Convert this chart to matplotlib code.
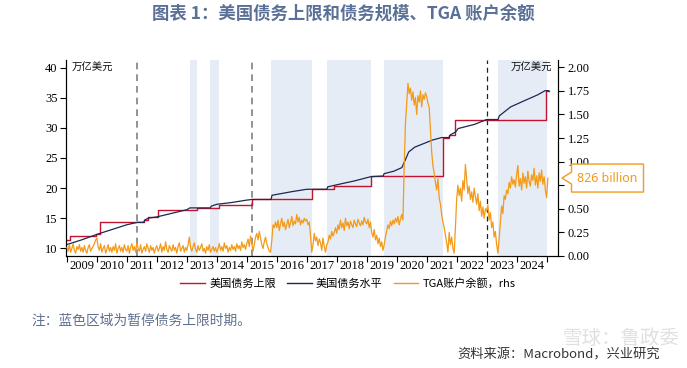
import numpy as np
import matplotlib
matplotlib.use("Agg")
import matplotlib.pyplot as plt
from matplotlib.patches import Polygon

plt.rcParams['font.family'] = ['Noto Sans CJK SC', 'DejaVu Sans']

# 债务上限（万亿美元），阶梯：起始时间 -> 数值
ceil_dates = [2009.0, 2009.11, 2009.96, 2010.10, 2011.56, 2011.72, 2012.03,
              2013.35, 2014.08, 2015.17, 2017.17, 2017.92, 2019.14,
              2021.55, 2021.74, 2021.94, 2024.97, 2025.07]
ceil_vals = [11.3, 12.1, 12.4, 14.3, 14.7, 15.2, 16.4,
             16.7, 17.2, 18.1, 19.8, 20.4, 22.0,
             28.4, 28.9, 31.4, 36.2, 36.2]

# 债务水平（万亿美元）
debt_dates = [2009.0, 2009.5, 2010.0, 2010.5, 2011.0, 2011.35, 2011.56, 2011.60,
              2011.72, 2012.0, 2012.5, 2013.0, 2013.1, 2013.35, 2013.78, 2013.82,
              2014.0, 2014.5, 2015.0, 2015.17, 2015.81, 2015.84, 2016.5, 2017.0,
              2017.17, 2017.67, 2017.70, 2018.05, 2018.6, 2019.14, 2019.55, 2019.58,
              2019.9, 2020.17, 2020.28, 2020.4, 2020.6, 2021.0, 2021.2, 2021.5,
              2021.74, 2021.80, 2021.96, 2022.05, 2022.6, 2023.0, 2023.38, 2023.42,
              2023.8, 2024.2, 2024.7, 2024.95, 2025.07]
debt_vals = [10.6, 11.4, 12.3, 13.1, 13.9, 14.3, 14.3, 14.7,
             15.0, 15.2, 15.8, 16.4, 16.7, 16.7, 16.7, 17.0,
             17.3, 17.6, 18.0, 18.1, 18.1, 18.8, 19.4, 19.8,
             19.8, 19.8, 20.2, 20.6, 21.2, 21.9, 22.0, 22.4,
             22.8, 23.4, 24.6, 26.0, 26.8, 27.6, 28.0, 28.4,
             28.4, 28.9, 29.3, 29.9, 30.6, 31.4, 31.4, 32.0,
             33.5, 34.4, 35.5, 36.2, 36.2]

# TGA 账户余额（万亿美元，右轴），半月度，自 2009 年初起
tga_vals = [
    0.09, 0.05, 0.12, 0.04, 0.08, 0.13, 0.06, 0.03, 0.10, 0.07, 0.12, 0.05,
    0.09, 0.04, 0.11, 0.06, 0.03, 0.09, 0.12, 0.05, 0.08, 0.10, 0.13, 0.17,  # 2009
    0.19, 0.10, 0.06, 0.13, 0.04, 0.08, 0.11, 0.03, 0.07, 0.12, 0.05, 0.09,
    0.04, 0.10, 0.06, 0.13, 0.03, 0.08, 0.11, 0.05, 0.09, 0.04, 0.12, 0.07,  # 2010
    0.05, 0.11, 0.03, 0.09, 0.13, 0.06, 0.10, 0.04, 0.14, 0.08, 0.05, 0.12,
    0.03, 0.07, 0.10, 0.05, 0.13, 0.08, 0.04, 0.11, 0.06, 0.09, 0.03, 0.08,  # 2011
    0.11, 0.05, 0.08, 0.13, 0.04, 0.10, 0.06, 0.15, 0.07, 0.04, 0.11, 0.08,
    0.05, 0.12, 0.06, 0.09, 0.03, 0.10, 0.14, 0.05, 0.08, 0.11, 0.04, 0.09,  # 2012
    0.06, 0.12, 0.20, 0.09, 0.05, 0.10, 0.14, 0.07, 0.04, 0.11, 0.06, 0.09,
    0.13, 0.05, 0.08, 0.03, 0.10, 0.06, 0.12, 0.04, 0.07, 0.10, 0.05, 0.09,  # 2013
    0.04, 0.08, 0.13, 0.06, 0.10, 0.05, 0.14, 0.08, 0.11, 0.04, 0.09, 0.06,
    0.12, 0.07, 0.10, 0.05, 0.13, 0.08, 0.11, 0.06, 0.15, 0.09, 0.12, 0.07,  # 2014
    0.13, 0.18, 0.10, 0.21, 0.14, 0.05, 0.12, 0.20, 0.24, 0.17, 0.26, 0.19,
    0.12, 0.08, 0.15, 0.20, 0.13, 0.09, 0.05, 0.04, 0.16, 0.33, 0.30, 0.36,  # 2015
    0.30, 0.38, 0.27, 0.34, 0.40, 0.31, 0.36, 0.28, 0.33, 0.39, 0.30, 0.35,
    0.42, 0.32, 0.37, 0.34, 0.44, 0.36, 0.41, 0.33, 0.38, 0.35, 0.40, 0.37,  # 2016
    0.39, 0.33, 0.36, 0.22, 0.04, 0.12, 0.24, 0.16, 0.20, 0.11, 0.18, 0.14,
    0.06, 0.19, 0.10, 0.04, 0.12, 0.15, 0.22, 0.18, 0.26, 0.21, 0.25, 0.30,  # 2017
    0.24, 0.33, 0.28, 0.38, 0.30, 0.35, 0.27, 0.40, 0.32, 0.36, 0.29, 0.37,
    0.33, 0.30, 0.38, 0.34, 0.31, 0.39, 0.35, 0.32, 0.37, 0.33, 0.41, 0.36,  # 2018
    0.34, 0.39, 0.30, 0.36, 0.25, 0.20, 0.28, 0.17, 0.22, 0.13, 0.19, 0.10,
    0.15, 0.06, 0.12, 0.20, 0.27, 0.33, 0.29, 0.37, 0.32, 0.38, 0.34, 0.40,  # 2019
    0.36, 0.42, 0.33, 0.39, 0.44, 0.38, 0.95, 1.40, 1.62, 1.83, 1.72, 1.78,
    1.65, 1.74, 1.60, 1.68, 1.50, 1.70, 1.63, 1.75, 1.58, 1.71, 1.66, 1.73,  # 2020
    1.69, 1.62, 1.58, 1.35, 1.10, 0.96, 0.88, 0.78, 0.70, 0.82, 0.62, 0.55,
    0.44, 0.36, 0.30, 0.22, 0.14, 0.04, 0.25, 0.12, 0.20, 0.08, 0.03, 0.30,  # 2021
    0.60, 0.75, 0.64, 0.72, 0.58, 0.80, 0.70, 0.97, 0.82, 0.66, 0.74, 0.60,
    0.68, 0.57, 0.72, 0.63, 0.55, 0.66, 0.48, 0.58, 0.42, 0.52, 0.40, 0.50,  # 2022
    0.48, 0.54, 0.38, 0.46, 0.30, 0.36, 0.20, 0.26, 0.12, 0.03, 0.18, 0.36,
    0.53, 0.45, 0.64, 0.60, 0.70, 0.66, 0.78, 0.72, 0.84, 0.76, 0.81, 0.73,  # 2023
    0.86, 0.96, 0.74, 0.82, 0.70, 0.88, 0.77, 0.84, 0.72, 0.90, 0.79, 0.74,
    0.86, 0.80, 0.93, 0.75, 0.85, 0.72, 0.88, 0.79, 0.91, 0.76, 0.84, 0.70,  # 2024
    0.62, 0.826,
]
tga_dates = 2009.0 + np.arange(len(tga_vals)) / 24.0
tga_last = "826 billion"

# 暂停债务上限时期
susp_periods = [(2013.09, 2013.35), (2013.78, 2014.08), (2015.81, 2017.17),
                (2017.67, 2019.13), (2019.58, 2021.54), (2023.39, 2025.0)]
dash_grey = [2011.35, 2015.17]
dash_black = [2023.02]
years = list(range(2009, 2025))
rticks = [0.0, 0.25, 0.5, 0.75, 1.0, 1.25, 1.5, 1.75, 2.0]
rlabels = ["0.00", "0.25", "0.50", "", "1.00", "1.25", "1.50", "1.75", "2.00"]  # 0.75 被标注框遮住

RED = "#C41230"
NAVY = "#1C2951"
ORANGE = "#F39A1A"
SHADE = "#E6ECF5"

fig = plt.figure(figsize=(6.87, 3.68), dpi=100)
ax = fig.add_axes([66 / 687, 1 - 256 / 368, (558 - 66) / 687, (256 - 60) / 368])
ax2 = ax.twinx()

for a, b in susp_periods:
    ax.axvspan(a, b, color=SHADE, lw=0, zorder=0)
for x in dash_grey:
    ax.axvline(x, color="#808080", ls=(0, (4, 3)), lw=1.2, zorder=1)
for x in dash_black:
    ax.axvline(x, color="#222222", ls=(0, (4, 3)), lw=0.9, zorder=1)

ax.step(ceil_dates, ceil_vals, where="post", color=RED, lw=1.0, zorder=3)
ax.plot(debt_dates, debt_vals, color=NAVY, lw=0.9, zorder=4)
ax2.plot(tga_dates, tga_vals, color=ORANGE, lw=0.9, zorder=5)

ax.set_xlim(2008.97, 2025.38)
ax.set_ylim(8.7, 41.3)
ax2.set_ylim(0.0, 2.077)

tick_font = dict(family="Liberation Serif", size=9)
ax.set_yticks(range(10, 45, 5))
ax2.set_yticks(rticks)
ax2.set_yticklabels(rlabels)
ax.set_xticks(years + [2025])
ax.set_xticklabels([])
ax.set_xticks([y + 0.5 for y in years], minor=True)
ax.set_xticklabels([str(y) for y in years], minor=True, fontdict=tick_font)
ax.tick_params(axis="x", which="major", length=4, direction="out", width=0.8)
ax.tick_params(axis="x", which="minor", length=0, pad=3)
ax.tick_params(axis="y", length=4, width=0.8, pad=2)
ax2.tick_params(axis="y", length=4, width=0.8, pad=3)
for lab in ax.get_yticklabels() + ax2.get_yticklabels():
    lab.set_fontfamily("Liberation Serif")
    lab.set_fontsize(9)

for a in (ax, ax2):
    a.spines["top"].set_visible(False)
    for s in ("left", "right", "bottom"):
        a.spines[s].set_linewidth(0.8)

ax.text(0.012, 0.985, "万亿美元", transform=ax.transAxes, ha="left", va="top",
        fontsize=7.5, color="#111111")
ax.text(0.988, 0.985, "万亿美元", transform=ax.transAxes, ha="right", va="top",
        fontsize=7.5, color="#111111")

# 图例
handles = [plt.Line2D([], [], color=RED, lw=1.0),
           plt.Line2D([], [], color=NAVY, lw=1.0),
           plt.Line2D([], [], color=ORANGE, lw=1.0)]
fig.legend(handles, ["美国债务上限", "美国债务水平", "TGA账户余额，rhs"],
           loc="center", bbox_to_anchor=(348 / 687, 1 - 283 / 368), ncol=3,
           frameon=False, fontsize=8, handlelength=2.2, handletextpad=0.4,
           columnspacing=1.0)

# 最新值标注
tx, ty = ax2.transData.transform((ax.get_xlim()[1], tga_vals[-1]))
tx += 4
bl, br = tx + 9.5, tx + 81.5
pts = [(tx, ty), (bl, ty - 6), (bl, ty - 14), (br, ty - 14), (br, ty + 14),
       (bl, ty + 14), (bl, ty + 6)]
pts = fig.transFigure.inverted().transform(pts)
fig.add_artist(Polygon(pts, closed=True, facecolor="white", edgecolor=ORANGE,
                       lw=1.0, transform=fig.transFigure, zorder=10))
cx, cy = fig.transFigure.inverted().transform(((bl + br) / 2, ty))
fig.text(cx, cy, tga_last, ha="center", va="center", color=ORANGE,
         fontsize=9, family="Noto Sans", zorder=11)

fig.text(0.5, 1 - 14 / 368, "图表 1：美国债务上限和债务规模、TGA 账户余额",
         ha="center", va="center", fontsize=12.5, fontweight="bold", color="#5B7096")
fig.text(31 / 687, 1 - 321 / 368, "注：蓝色区域为暂停债务上限时期。",
         ha="left", va="center", fontsize=9.9, color="#5F6F8F")
fig.text(660 / 687, 1 - 355 / 368, "资料来源：Macrobond，兴业研究",
         ha="right", va="center", fontsize=9.5, color="#333333")
fig.text(680 / 687, 1 - 338 / 368, "雪球：鲁政委", ha="right", va="center",
         fontsize=14, color="#BBBBBB", alpha=0.45)

fig.savefig("out.png", dpi=100)
